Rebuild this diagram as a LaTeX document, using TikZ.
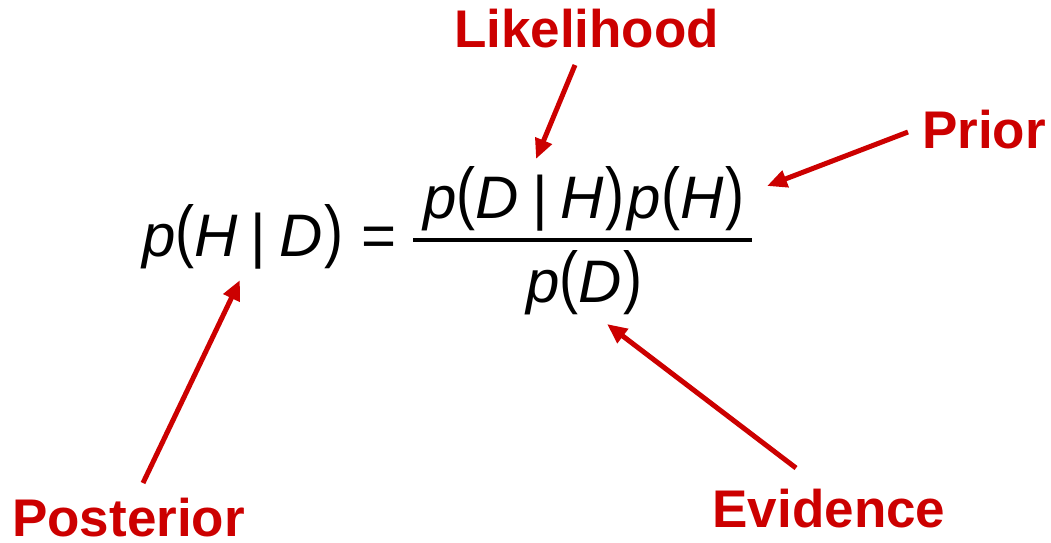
\documentclass[tikz,border=0pt]{standalone}
\usepackage{fontspec}
\usepackage{graphicx}
\setmainfont{Liberation Sans}
\usetikzlibrary{arrows.meta}
\definecolor{lblred}{HTML}{CC0000}
\tikzset{
  lbl/.style={text=lblred, font=\fontsize{53}{60}\selectfont\bfseries, inner sep=0pt, anchor=base},
  eq/.style={text=black, font=\fontsize{60}{70}\selectfont\itshape, inner sep=0pt, anchor=base},
  pointer/.style={draw=lblred, line width=5pt, -{Triangle[length=20pt,width=17pt]}},
  fracline/.style={draw=black, line width=3.5pt}
}
\newcommand{\gbar}{\hspace{13pt}{\upshape|}\hspace{13pt}}
\newcommand{\lp}{\raisebox{2pt}{\scalebox{0.95}[1.15]{\upshape(}}}
\newcommand{\rp}{\raisebox{2pt}{\scalebox{0.95}[1.15]{\upshape)}}}
\begin{document}
\begin{tikzpicture}[x=1pt,y=-1pt]
\useasboundingbox (0,0) rectangle (1051,542);
% equation
\node[eq] (lhs) at (243,256) {p\lp H\gbar D\hspace{2pt}\rp};
\node[eq,font=\fontsize{60}{70}\selectfont\upshape] (eqs) at (379,256) {=};
\node[eq] (num) at (584,218) {p\lp D\gbar H\hspace{2pt}\rp\hspace{3pt}p\lp H\hspace{2pt}\rp};
\node[eq] (den) at (584.5,302) {p\lp D\hspace{2pt}\rp};
\coordinate (fl) at (413,240);
\coordinate (fr) at (752,240);
\draw[fracline] (fl) -- (fr);
% labels
\node[lbl] (lik) at (586.5,47) {Likelihood};
\node[lbl] (pri) at (984,148) {Prior};
\node[lbl] (pos) at (128.5,536) {Posterior};
\node[lbl] (evi) at (829,527) {Evidence};
% arrow ends
\coordinate (likS) at (575,65);
\coordinate (likT) at (536,159);
\coordinate (priS) at (908,132);
\coordinate (priT) at (767,186);
\coordinate (posS) at (143,483);
\coordinate (posT) at (240,280);
\coordinate (eviS) at (796,468);
\coordinate (eviT) at (607,324);
\draw[pointer] (likS) -- (likT);
\draw[pointer] (priS) -- (priT);
\draw[pointer] (posS) -- (posT);
\draw[pointer] (eviS) -- (eviT);
\end{tikzpicture}
\end{document}
